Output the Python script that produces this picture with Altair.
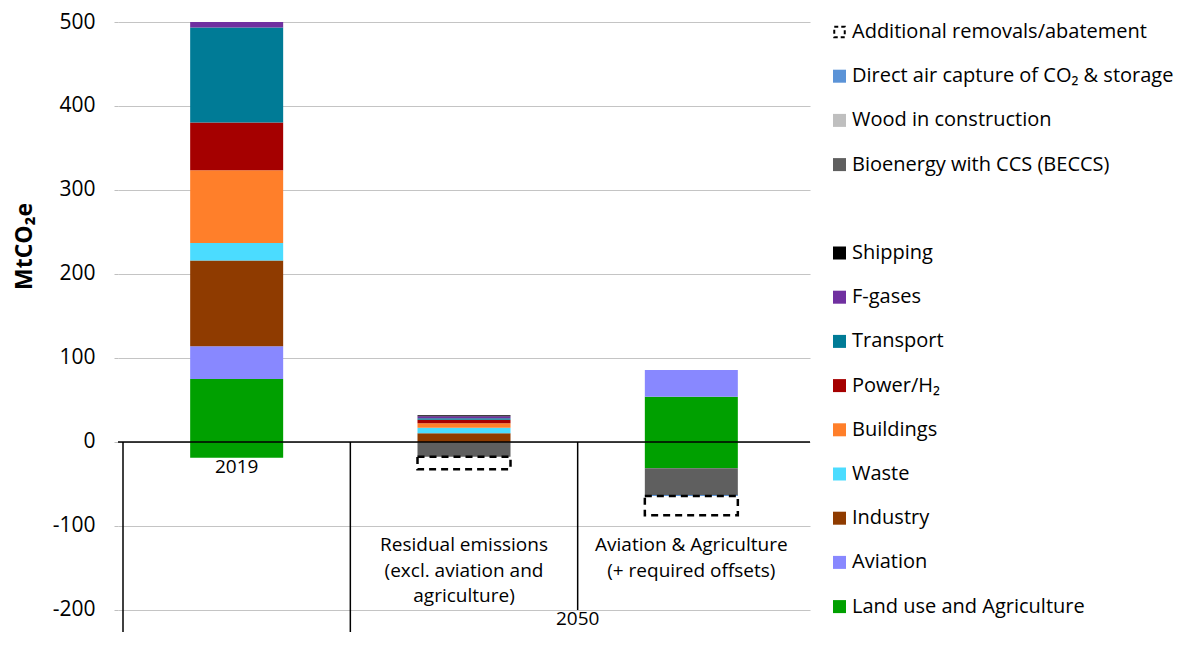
import altair as alt
import pandas as pd

# ---------------- data ----------------
categories = ["2019",
              "Residual emissions\n(excl. aviation and\nagriculture)",
              "Aviation & Agriculture\n(+ required offsets)"]
group_label = "2050"
group_members = [1, 2]

series = ["Land use and Agriculture", "Aviation", "Industry", "Waste", "Buildings",
          "Power/H₂", "Transport", "F-gases", "Shipping",
          "Bioenergy with CCS (BECCS)", "Wood in construction",
          "Direct air capture of CO₂ & storage", "Additional removals/abatement"]
colors = ["#00A000", "#8888FF", "#8F3B00", "#4BDCFF", "#FF7F2A",
          "#A50000", "#007B96", "#7030A0", "#000000",
          "#5F5F5F", "#BFBFBF", "#5B93D7", "#FFFFFF"]

# values per category: [2019, residual 2050, aviation & agriculture 2050]
land_use_pos = [75.0, 0.0, 54.0]
land_use_neg = [-18.7, 0.0, -31.3]
aviation = [39.0, 0.0, 31.8]
industry = [102.0, 10.4, 0.0]
waste = [21.0, 6.6, 0.0]
buildings = [86.5, 5.3, 0.0]
power = [57.0, 4.2, 0.0]
transport = [113.0, 1.7, 0.0]
fgases = [6.5, 2.4, 0.0]
shipping = [0.0, 1.2, 0.0]
beccs = [0.0, -17.5, -31.8]
wood = [0.0, 0.0, 0.0]
dac = [0.0, 0.0, -1.2]
additional = [0.0, -15.0, -23.0]

y_ticks = [-200, -100, 0, 100, 200, 300, 400, 500]
y_min, y_max = -226.2, 500

# legend order (top to bottom) with an empty slot between groups
legend_order = ["Additional removals/abatement", "Direct air capture of CO₂ & storage",
                "Wood in construction", "Bioenergy with CCS (BECCS)", None,
                "Shipping", "F-gases", "Transport", "Power/H₂", "Buildings",
                "Waste", "Industry", "Aviation", "Land use and Agriculture"]

# ---------------- tables ----------------
value_lists = [("Land use and Agriculture", land_use_pos), ("Land use and Agriculture", land_use_neg),
               ("Aviation", aviation), ("Industry", industry), ("Waste", waste),
               ("Buildings", buildings), ("Power/H₂", power), ("Transport", transport),
               ("F-gases", fgases), ("Shipping", shipping),
               ("Bioenergy with CCS (BECCS)", beccs), ("Wood in construction", wood),
               ("Direct air capture of CO₂ & storage", dac),
               ("Additional removals/abatement", additional)]
rows = []
for name, vals in value_lists:
    for ci, v in enumerate(vals):
        if v != 0:
            rows.append({"ci": ci, "series": name, "value": v, "order": series.index(name)})
df = pd.DataFrame(rows)

cat_df = pd.DataFrame({"ci": list(range(len(categories))), "label": categories})
grp_df = pd.DataFrame({"ci": [sum(group_members) / len(group_members)], "label": [group_label]})
sep_df = pd.DataFrame({"x": [-0.5, 0.5, 1.5], "top": [0, 0, 0], "bottom": [y_min, y_min, -200]})
leg_df = pd.DataFrame([{"series": s, "slot": i} for i, s in enumerate(legend_order) if s is not None])

FONT = "Open Sans"
xscale = alt.Scale(domain=[-0.5, len(categories) - 0.5], nice=False, zero=False)
yscale = alt.Scale(domain=[y_min, y_max], nice=False, zero=False)
cscale = alt.Scale(domain=series, range=colors)

yaxis = alt.Axis(values=y_ticks, labelExpr="'' + datum.value", labelFontSize=21,
                 labelColor="black", labelPadding=19, tickSize=4, tickColor="#BFBFBF",
                 domain=False, grid=True, gridColor="#C4C4C4", gridWidth=1.2,
                 title="MtCO₂e", titleFontSize=23, titleFontWeight="bold", titleColor="black",
                 titleX=-94, titleY=224, titleAngle=-90, titleAlign="center",
                 titleBaseline="middle", labelFont=FONT, titleFont=FONT)


def Y(field):
    return alt.Y(field, scale=yscale, axis=yaxis)


def X(field):
    return alt.X(field, scale=xscale, axis=None)


base = alt.Chart(df).transform_stack(
    stack="value", groupby=["ci"], sort=[alt.SortField("order", order="ascending")],
    as_=["y0", "y1"])

bars = base.transform_filter(alt.datum.series != "Additional removals/abatement").mark_bar(size=93).encode(
    x=X("ci:Q"), y=Y("y0:Q"), y2="y1:Q",
    color=alt.Color("series:N", scale=cscale, legend=None),
)

dashed = base.transform_filter(alt.datum.series == "Additional removals/abatement").mark_bar(
    size=93, fill="transparent", stroke="black", strokeWidth=2.5, strokeDash=[7, 5]).encode(
    x=X("ci:Q"), y=Y("y0:Q"), y2="y1:Q",
)

zero = alt.Chart(pd.DataFrame({"y": [0]})).mark_rule(color="black", strokeWidth=1.5).encode(y=Y("y:Q"))

seps = alt.Chart(sep_df).mark_rule(color="black", strokeWidth=1.5).encode(
    x=X("x:Q"), y=Y("top:Q"), y2="bottom:Q",
)

lab2019 = alt.Chart(cat_df[cat_df.ci == 0]).mark_text(fontSize=19, baseline="middle", font=FONT, color="black").encode(
    x=X("ci:Q"), y=alt.value(445), text="label:N")

lab2050 = alt.Chart(cat_df[cat_df.ci > 0]).mark_text(fontSize=19, baseline="top", lineBreak="\n",
                                                   lineHeight=25.5, font=FONT, color="black").encode(
    x=X("ci:Q"), y=alt.value(514), text="label:N")

labgrp = alt.Chart(grp_df).mark_text(fontSize=19, baseline="middle", font=FONT, color="black").encode(
    x=X("ci:Q"), y=alt.value(597), text="label:N")

main = alt.layer(bars, dashed, zero, seps, lab2019, lab2050, labgrp)

lscale = alt.Scale(domain=[0, len(legend_order) - 1], range=[10, 584.6], nice=False, zero=False)

leg_sq = alt.Chart(leg_df).transform_filter(alt.datum.series != "Additional removals/abatement").mark_square(
    size=169, opacity=1).encode(
    x=alt.value(721.5),
    y=alt.Y("slot:Q", scale=lscale, axis=None),
    color=alt.Color("series:N", scale=cscale, legend=None),
)
leg_dash = alt.Chart(leg_df).transform_filter(alt.datum.series == "Additional removals/abatement").mark_point(
    shape="square", filled=False, size=110, stroke="black", strokeWidth=2, strokeDash=[4, 3], opacity=1).encode(
    x=alt.value(721.5),
    y=alt.Y("slot:Q", scale=lscale, axis=None),
)
leg_txt = alt.Chart(leg_df).mark_text(align="left", baseline="middle", fontSize=20, font=FONT, color="black").encode(
    x=alt.value(734),
    y=alt.Y("slot:Q", scale=lscale, axis=None),
    text="series:N",
)
legend = alt.layer(leg_sq, leg_dash, leg_txt)

chart = alt.layer(main, legend).resolve_scale(y="independent").properties(
    width=692, height=610,
    padding={"left": 110, "top": 14, "right": 383, "bottom": 0},
    autosize=alt.AutoSizeParams(type="none"),
).configure(font=FONT).configure_view(stroke=None)

chart.save("out.html", embed_options={"renderer": "svg", "actions": False})
